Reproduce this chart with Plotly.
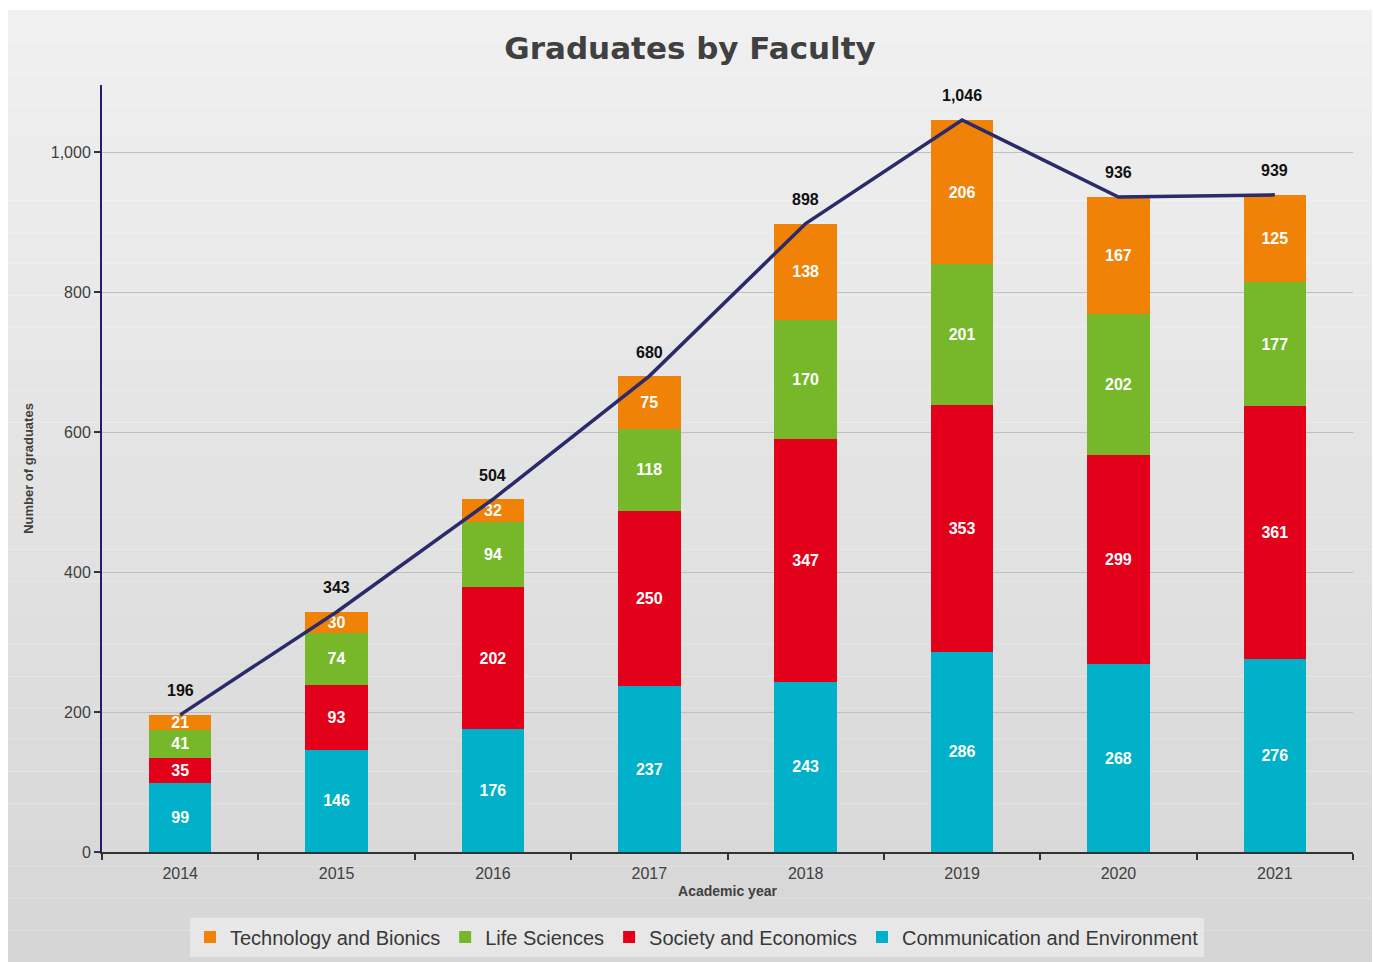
import plotly.graph_objects as go
import numpy as np

years = ["2014", "2015", "2016", "2017", "2018", "2019", "2020", "2021"]
communication = [99, 146, 176, 237, 243, 286, 268, 276]
society = [35, 93, 202, 250, 347, 353, 299, 361]
life = [41, 74, 94, 118, 170, 201, 202, 177]
technology = [21, 30, 32, 75, 138, 206, 167, 125]
totals = [int(v) for v in np.sum([communication, society, life, technology], axis=0)]

series = [
    ("Communication and Environment", communication, "#00b1c9"),
    ("Society and Economics", society, "#e2001a"),
    ("Life Sciences", life, "#76b82a"),
    ("Technology and Bionics", technology, "#f08208"),
]

fig = go.Figure()
for name, vals, col in series:
    fig.add_trace(go.Bar(
        x=years, y=vals, name=name, marker=dict(color=col, line=dict(width=0)),
        text=[str(v) for v in vals], textposition="inside", insidetextanchor="middle",
        textfont=dict(color="white", size=16, family="Liberation Sans"),
        texttemplate="<b>%{text}</b>", constraintext="none", width=0.4,
    ))

fig.add_trace(go.Scatter(
    x=years, y=totals, mode="lines", line=dict(color="#2b2a6a", width=3.5),
    showlegend=False, hoverinfo="skip",
))

# category axis: annotation x uses category index
for i, t in enumerate(totals):
    fig.add_annotation(x=i, y=t, text="<b>{:,}</b>".format(t), showarrow=False,
                       yshift=24, font=dict(size=16, color="#111111", family="Liberation Sans"))

# gradient background
L, R, T, B = 102, 1353, 85, 852
W, H = R - L, B - T
def px(xp):
    return (xp - L) / W
def py(yp):
    return (B - yp) / H
n = 30
top_c, bot_c = np.array([241, 241, 241]), np.array([214, 214, 214])
y_edges = np.linspace(10, 962, n + 1)
shapes = []
for i in range(n):
    c = top_c + (bot_c - top_c) * (i + 0.5) / n
    shapes.append(dict(type="rect", xref="paper", yref="paper", layer="below",
                       x0=px(8), x1=px(1372), y0=py(y_edges[i + 1]), y1=py(y_edges[i]),
                       fillcolor="rgb(%d,%d,%d)" % tuple(c.astype(int)), line=dict(width=0)))

fig.update_layout(
    width=1373, height=962,
    margin=dict(l=L, r=1373 - R, t=T, b=962 - B, autoexpand=False),
    paper_bgcolor="white", plot_bgcolor="rgba(0,0,0,0)",
    barmode="stack", shapes=shapes,
    uniformtext=dict(minsize=16, mode="show"),
    font=dict(family="Liberation Sans", color="#404040"),
    title=dict(text="<b>Graduates by Faculty</b>", x=690 / 1373, xanchor="center",
               y=1 - 48 / 962, yanchor="middle", yref="container",
               font=dict(size=31, color="#404040", family="DejaVu Sans")),
    legend=dict(orientation="h", traceorder="reversed", x=px(697), xanchor="center",
                y=py(937), yanchor="middle", bgcolor="rgba(235,235,235,0.8)",
                font=dict(size=20, color="#383838"), itemwidth=30),
    xaxis=dict(type="category", showline=True, linecolor="#333333", linewidth=2, ticks="outside",
               tickson="boundaries", ticklen=6, tickwidth=2, tickcolor="#333333",
               tickfont=dict(size=16, color="#404040"), showgrid=False, automargin=False,
               range=[-0.5, 7.5], ticklabelstandoff=6,
               title=dict(text="<b>Academic year</b>", font=dict(size=14, color="#404040"), standoff=5)),
    yaxis=dict(range=[0, 1096], dtick=200, tickformat=",", showline=True, linecolor="#1f1f6e",
               linewidth=2, ticks="outside", ticklen=6, tickwidth=2, tickcolor="#333333",
               tickfont=dict(size=16, color="#404040"), showgrid=True, gridcolor="#bfbfbf",
               gridwidth=1, zeroline=False, automargin=False,
               title=dict(text="<b>Number of graduates</b>", font=dict(size=13, color="#404040"), standoff=14)),
)

fig.write_html("out.html", config={"displayModeBar": False},
               post_script="document.body.style.margin='0';")
